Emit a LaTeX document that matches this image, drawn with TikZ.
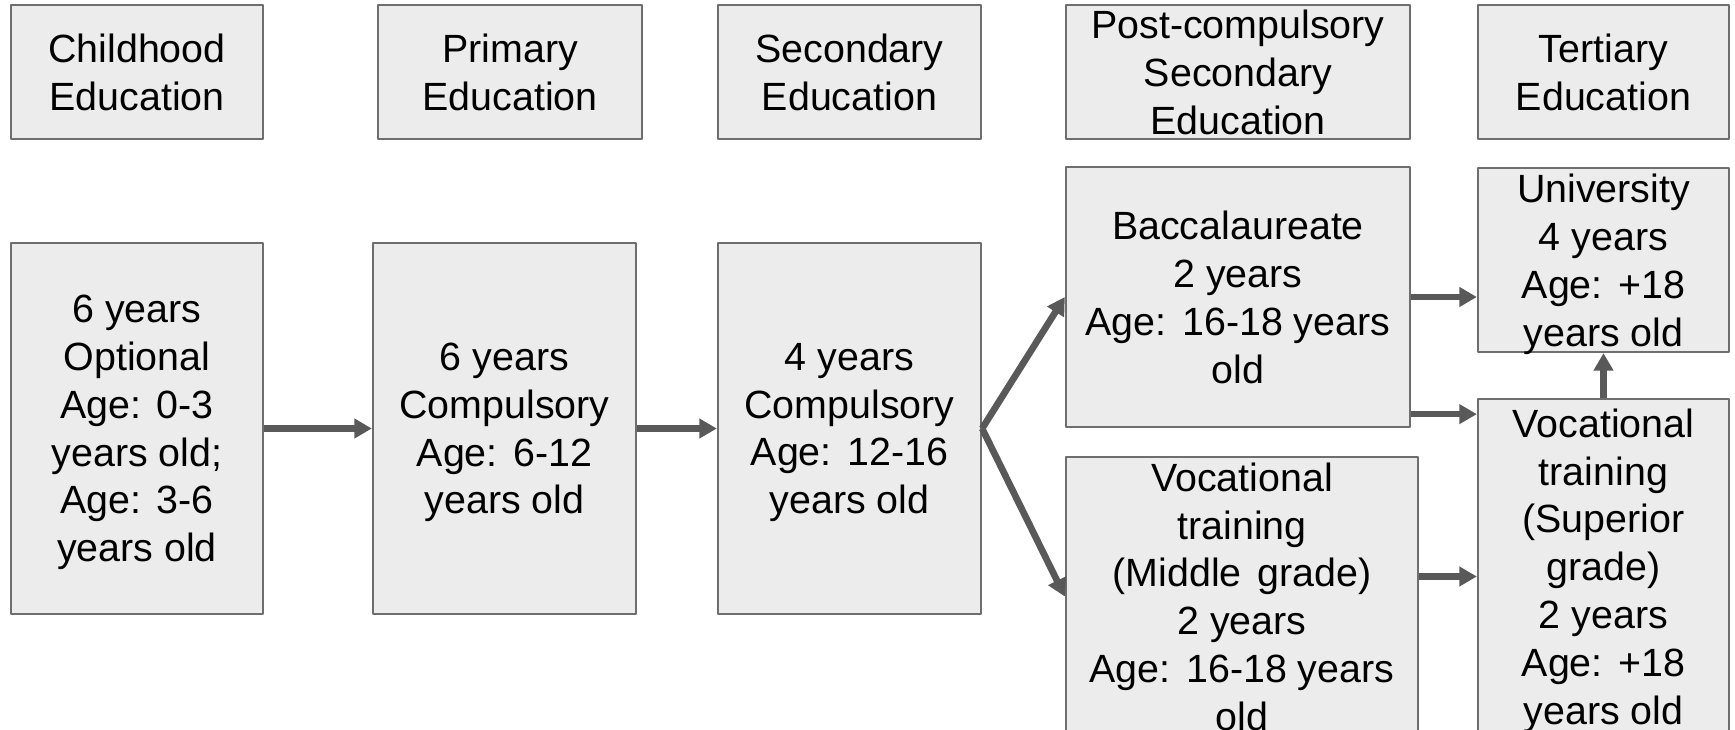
\documentclass[tikz,border=0pt]{standalone}
\usepackage{fontspec}
\setmainfont{Liberation Sans}
\usetikzlibrary{arrows.meta}
\definecolor{boxfill}{HTML}{ECECEC}
\definecolor{boxline}{HTML}{6E6E6E}
\definecolor{muigray}{HTML}{595959}
\newcommand{\agesp}{\kern0.12em\ }
\begin{document}
\begin{tikzpicture}[x=0.01cm, y=-0.01cm, font=\fontsize{11.2}{13.6}\selectfont, line join=round, >={Triangle[length=5pt,width=5.4pt]},
	hop/.style={draw=boxline, fill=boxfill, line width=0.6pt, inner sep=0pt, align=center, text depth=0pt},
	mui/.style={->, draw=muigray, fill=muigray, line width=1.9pt}]%Sodo
	\useasboundingbox (0,0) rectangle (1735,730);
	% hang tieu de
	\foreach \n/\x/\w/\t in {hchild/137/2.52/{Childhood\\Education}, hprim/510/2.64/{Primary\\Education}, hsec/849.5/2.63/{Secondary\\Education}, hpost/1238/3.44/{Post-compulsory\\Secondary\\Education}, hter/1603.5/2.51/{Tertiary\\Education}}
	\node[hop, minimum width=\w cm, minimum height=1.34cm] (\n) at (\x,72) {\t};
	% cac khoi
	\node[hop, minimum width=2.52cm, minimum height=3.71cm] (bchild) at (137,428.5) {6 years\\Optional\\Age:\agesp 0-3\\years old;\\Age:\agesp 3-6\\years old};
	\node[hop, minimum width=2.63cm, minimum height=3.71cm] (bprim) at (504.5,428.5) {6 years\\Compulsory\\Age:\agesp 6-12\\years old};
	\node[hop, minimum width=2.63cm, minimum height=3.71cm] (bsec) at (849.5,428.5) {4 years\\Compulsory\\Age:\agesp 12-16\\years old};
	\node[hop, minimum width=3.44cm, minimum height=2.60cm] (bacc) at (1238,297) {Baccalaureate\\2 years\\Age:\agesp 16-18 years\\old};
	\node[hop, minimum width=3.52cm, minimum height=2.79cm] (vocmid) at (1242,596.5) {Vocational\\training\\(Middle\agesp grade)\\2 years\\Age:\agesp 16-18 years\\old};
	\node[hop, minimum width=2.51cm, minimum height=1.84cm] (univ) at (1603.5,260) {University\\4 years\\Age:\agesp +18\\years old};
	\node[hop, minimum width=2.51cm, minimum height=3.35cm] (vocsup) at (1603.5,566.5) {Vocational\\training\\(Superior\\grade)\\2 years\\Age:\agesp +18\\years old};
	% mui ten
	\draw[mui] (bchild.east)--(bprim.west);
	\draw[mui] (bprim.east)--(bsec.west);
	\draw[mui] (bsec.east)--(bacc.west);
	\draw[mui] (bsec.east)--(vocmid.west);
	\draw[mui] (bacc.east)--(bacc.east-|univ.west);
	\draw[mui] ([yshift=0.14cm]bacc.south east)coordinate(bv)--(bv-|vocsup.west);
	\draw[mui] ([yshift=0.2cm]vocmid.east)coordinate(mv)--(mv-|vocsup.west);
	\draw[mui] (vocsup.north)--(univ.south);
\end{tikzpicture}
\end{document}
